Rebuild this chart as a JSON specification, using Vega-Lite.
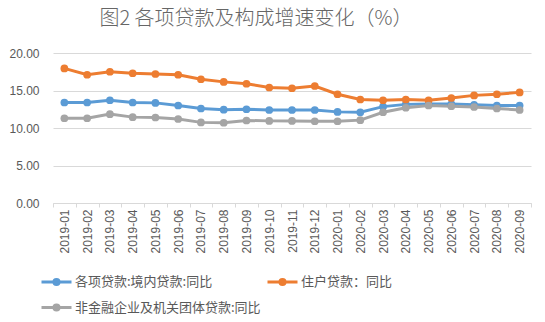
{
  "$schema": "https://vega.github.io/schema/vega-lite/v6.json",
  "width": 478,
  "height": 150,
  "autosize": {"type": "none"},
  "padding": {"left": 53, "top": 53, "right": 14, "bottom": 119},
  "background": "white",
  "title": {
    "text": "图2  各项贷款及构成增速变化（%）",
    "font": "Noto Sans CJK SC",
    "fontSize": 20,
    "fontWeight": 300,
    "color": "#666666",
    "anchor": "middle",
    "dx": -36,
    "offset": 8,
    "baseline": "middle"
  },
  "config": {
    "view": {"stroke": null},
    "axis": {"labelFont": "Liberation Sans", "labelColor": "#595959", "labelFontSize": 12}
  },
  "data": {
    "values": [
      {"m": "2019-01", "s": "各项贷款:境内贷款:同比", "v": 13.4},
      {"m": "2019-02", "s": "各项贷款:境内贷款:同比", "v": 13.4},
      {"m": "2019-03", "s": "各项贷款:境内贷款:同比", "v": 13.7},
      {"m": "2019-04", "s": "各项贷款:境内贷款:同比", "v": 13.4},
      {"m": "2019-05", "s": "各项贷款:境内贷款:同比", "v": 13.35},
      {"m": "2019-06", "s": "各项贷款:境内贷款:同比", "v": 13.0},
      {"m": "2019-07", "s": "各项贷款:境内贷款:同比", "v": 12.6},
      {"m": "2019-08", "s": "各项贷款:境内贷款:同比", "v": 12.45},
      {"m": "2019-09", "s": "各项贷款:境内贷款:同比", "v": 12.5},
      {"m": "2019-10", "s": "各项贷款:境内贷款:同比", "v": 12.4},
      {"m": "2019-11", "s": "各项贷款:境内贷款:同比", "v": 12.4},
      {"m": "2019-12", "s": "各项贷款:境内贷款:同比", "v": 12.4},
      {"m": "2020-01", "s": "各项贷款:境内贷款:同比", "v": 12.15},
      {"m": "2020-02", "s": "各项贷款:境内贷款:同比", "v": 12.1},
      {"m": "2020-03", "s": "各项贷款:境内贷款:同比", "v": 12.85},
      {"m": "2020-04", "s": "各项贷款:境内贷款:同比", "v": 13.15},
      {"m": "2020-05", "s": "各项贷款:境内贷款:同比", "v": 13.2},
      {"m": "2020-06", "s": "各项贷款:境内贷款:同比", "v": 13.2},
      {"m": "2020-07", "s": "各项贷款:境内贷款:同比", "v": 13.1},
      {"m": "2020-08", "s": "各项贷款:境内贷款:同比", "v": 13.0},
      {"m": "2020-09", "s": "各项贷款:境内贷款:同比", "v": 13.0},
      {"m": "2019-01", "s": "住户贷款：同比", "v": 17.95},
      {"m": "2019-02", "s": "住户贷款：同比", "v": 17.1},
      {"m": "2019-03", "s": "住户贷款：同比", "v": 17.5},
      {"m": "2019-04", "s": "住户贷款：同比", "v": 17.3},
      {"m": "2019-05", "s": "住户贷款：同比", "v": 17.2},
      {"m": "2019-06", "s": "住户贷款：同比", "v": 17.1},
      {"m": "2019-07", "s": "住户贷款：同比", "v": 16.5},
      {"m": "2019-08", "s": "住户贷款：同比", "v": 16.15},
      {"m": "2019-09", "s": "住户贷款：同比", "v": 15.9},
      {"m": "2019-10", "s": "住户贷款：同比", "v": 15.4},
      {"m": "2019-11", "s": "住户贷款：同比", "v": 15.3},
      {"m": "2019-12", "s": "住户贷款：同比", "v": 15.6},
      {"m": "2020-01", "s": "住户贷款：同比", "v": 14.5},
      {"m": "2020-02", "s": "住户贷款：同比", "v": 13.8},
      {"m": "2020-03", "s": "住户贷款：同比", "v": 13.7},
      {"m": "2020-04", "s": "住户贷款：同比", "v": 13.8},
      {"m": "2020-05", "s": "住户贷款：同比", "v": 13.7},
      {"m": "2020-06", "s": "住户贷款：同比", "v": 14.0},
      {"m": "2020-07", "s": "住户贷款：同比", "v": 14.35},
      {"m": "2020-08", "s": "住户贷款：同比", "v": 14.5},
      {"m": "2020-09", "s": "住户贷款：同比", "v": 14.75},
      {"m": "2019-01", "s": "非金融企业及机关团体贷款:同比", "v": 11.3},
      {"m": "2019-02", "s": "非金融企业及机关团体贷款:同比", "v": 11.3},
      {"m": "2019-03", "s": "非金融企业及机关团体贷款:同比", "v": 11.85},
      {"m": "2019-04", "s": "非金融企业及机关团体贷款:同比", "v": 11.45},
      {"m": "2019-05", "s": "非金融企业及机关团体贷款:同比", "v": 11.4},
      {"m": "2019-06", "s": "非金融企业及机关团体贷款:同比", "v": 11.2},
      {"m": "2019-07", "s": "非金融企业及机关团体贷款:同比", "v": 10.75},
      {"m": "2019-08", "s": "非金融企业及机关团体贷款:同比", "v": 10.7},
      {"m": "2019-09", "s": "非金融企业及机关团体贷款:同比", "v": 11.0},
      {"m": "2019-10", "s": "非金融企业及机关团体贷款:同比", "v": 10.95},
      {"m": "2019-11", "s": "非金融企业及机关团体贷款:同比", "v": 10.95},
      {"m": "2019-12", "s": "非金融企业及机关团体贷款:同比", "v": 10.9},
      {"m": "2020-01", "s": "非金融企业及机关团体贷款:同比", "v": 10.9},
      {"m": "2020-02", "s": "非金融企业及机关团体贷款:同比", "v": 11.05},
      {"m": "2020-03", "s": "非金融企业及机关团体贷款:同比", "v": 12.1},
      {"m": "2020-04", "s": "非金融企业及机关团体贷款:同比", "v": 12.7},
      {"m": "2020-05", "s": "非金融企业及机关团体贷款:同比", "v": 13.0},
      {"m": "2020-06", "s": "非金融企业及机关团体贷款:同比", "v": 12.9},
      {"m": "2020-07", "s": "非金融企业及机关团体贷款:同比", "v": 12.8},
      {"m": "2020-08", "s": "非金融企业及机关团体贷款:同比", "v": 12.6},
      {"m": "2020-09", "s": "非金融企业及机关团体贷款:同比", "v": 12.4}
    ]
  },
  "mark": {"type": "line", "strokeWidth": 3, "point": {"filled": true, "size": 60, "opacity": 1}},
  "encoding": {
    "x": {
      "field": "m",
      "type": "ordinal",
      "bandPosition": 0.5,
      "scale": {"type": "band", "paddingInner": 0, "paddingOuter": 0},
      "axis": {
        "title": null,
        "labelAngle": -90,
        "labelAlign": "right",
        "labelBaseline": "middle",
        "tickBand": "extent",
        "tickSize": 4,
        "tickColor": "#d9d9d9",
        "domainColor": "#d9d9d9",
        "labelPadding": 2,
        "grid": false
      }
    },
    "y": {
      "field": "v",
      "type": "quantitative",
      "scale": {"domain": [0, 20], "nice": false},
      "axis": {
        "title": null,
        "values": [0, 5, 10, 15, 20],
        "format": ".2f",
        "domain": false,
        "ticks": false,
        "labelPadding": 14,
        "gridColor": "#d9d9d9",
        "gridWidth": 1
      }
    },
    "color": {
      "field": "s",
      "type": "nominal",
      "sort": ["各项贷款:境内贷款:同比", "住户贷款：同比", "非金融企业及机关团体贷款:同比"],
      "scale": {
        "domain": ["各项贷款:境内贷款:同比", "住户贷款：同比", "非金融企业及机关团体贷款:同比"],
        "range": ["#5B9BD5", "#ED7D31", "#A5A5A5"]
      },
      "legend": {
        "title": null,
        "orient": "none",
        "legendX": -13,
        "legendY": 212,
        "direction": "horizontal",
        "columns": 2,
        "columnPadding": 0,
        "rowPadding": -3,
        "padding": 0,
        "symbolType": "M-1,0H1M-0.17,0A0.17,0.17 0 1 1 0.17,0A0.17,0.17 0 1 1 -0.17,0M-0.08,0A0.08,0.08 0 1 1 0.08,0A0.08,0.08 0 1 1 -0.08,0",
        "symbolSize": 900,
        "symbolStrokeWidth": 3,
        "labelOffset": 2,
        "labelFont": "Noto Sans CJK SC",
        "labelFontSize": 13,
        "labelColor": "#595959",
        "labelLimit": 400
      }
    }
  }
}
